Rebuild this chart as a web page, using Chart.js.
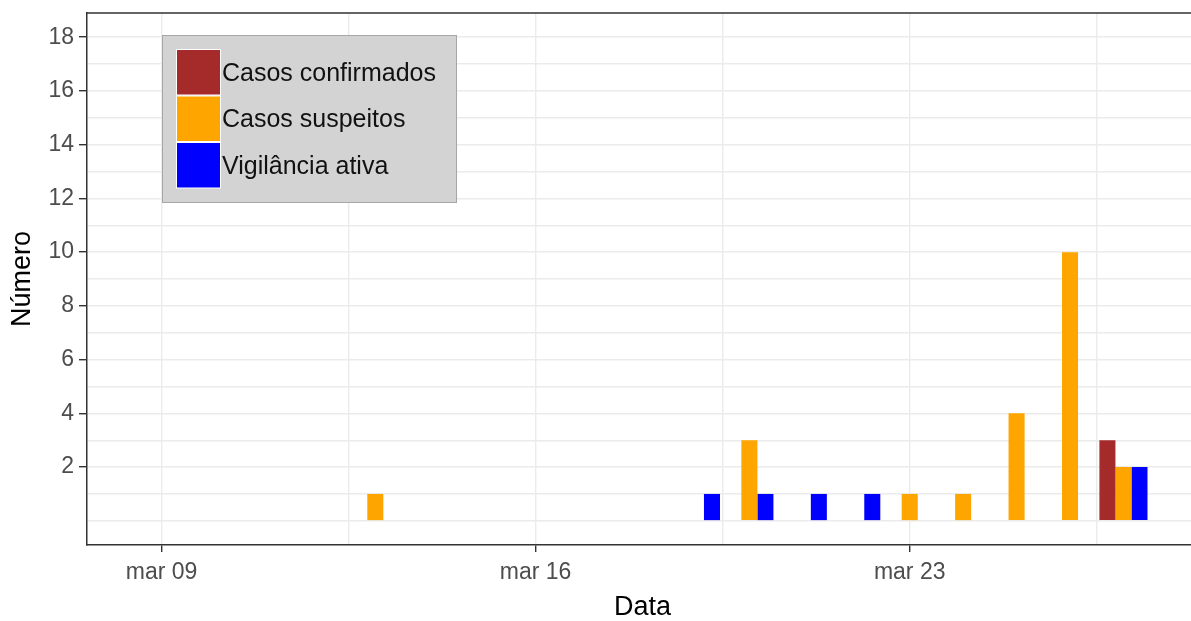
<!DOCTYPE html>
<html>
<head>
<meta charset="utf-8">
<script src="https://cdn.jsdelivr.net/npm/chart.js@4/dist/chart.umd.min.js"></script>
<style>
  html, body { margin: 0; padding: 0; background: #fff; overflow: hidden; }
  #wrap { width: 1200px; height: 621px; }
</style>
</head>
<body>
<div id="wrap"><canvas id="grafico" width="1200" height="621"></canvas></div>
<script>
// dias de março
var dias = [9, 10, 11, 12, 13, 14, 15, 16, 17, 18, 19, 20, 21, 22, 23, 24, 25, 26, 27];
var confirmados = [0, 0, 0, 0, 0, 0, 0, 0, 0, 0, 0, 0, 0, 0, 0, 0, 0, 0, 3];
var suspeitos   = [0, 0, 0, 0, 1, 0, 0, 0, 0, 0, 0, 3, 0, 0, 1, 1, 4, 10, 2];
var vigilancia  = [0, 0, 0, 0, 0, 0, 0, 0, 0, 0, 1, 1, 1, 1, 0, 0, 0, 0, 2];

var marcasX = [9, 16, 23];
var rotulosX = ['mar 09', 'mar 16', 'mar 23'];
var marcasY = [2, 4, 6, 8, 10, 12, 14, 16, 18];

var series = [
    { label: 'Casos confirmados', valores: confirmados, cor: '#A52A2A' },
    { label: 'Casos suspeitos', valores: suspeitos, cor: '#FFA500' },
    { label: 'Vigilância ativa', valores: vigilancia, cor: '#0000FF' }
];

var fonte = "Arial, 'Liberation Sans', sans-serif";
Chart.defaults.font.family = fonte;
Chart.defaults.animation = false;

function pontos(valores) {
    return dias.map(function(d, i) { return { x: d, y: valores[i] }; });
}

// legenda dentro do painel, estilo ggplot
var legendaPainel = {
    id: 'legendaPainel',
    afterDraw: function(chart) {
        var ctx = chart.ctx;
        var area = chart.chartArea;
        var x0 = area.left + 75, y0 = area.top + 22;
        var w = 295, h = 168;
        ctx.save();
        ctx.fillStyle = '#D3D3D3';
        ctx.fillRect(x0, y0, w, h);
        ctx.strokeStyle = '#A6A6A6';
        ctx.lineWidth = 1;
        ctx.strokeRect(x0 + 0.5, y0 + 0.5, w - 1, h - 1);
        ctx.font = '25px ' + fonte;
        ctx.textBaseline = 'middle';
        chart.data.datasets.forEach(function(ds, i) {
            var ky = y0 + 14 + i * 46.5;
            ctx.fillStyle = '#FFFFFF';
            ctx.fillRect(x0 + 14, ky, 45, 46.5);
            ctx.fillStyle = ds.backgroundColor;
            ctx.fillRect(x0 + 15, ky + 1, 43, 44.5);
            ctx.fillStyle = '#111111';
            ctx.fillText(ds.label, x0 + 60, ky + 25);
        });
        ctx.restore();
    }
};

// borda superior do painel
var bordaPainel = {
    id: 'bordaPainel',
    afterDraw: function(chart) {
        var ctx = chart.ctx;
        var area = chart.chartArea;
        ctx.save();
        ctx.strokeStyle = '#333333';
        ctx.lineWidth = 1.5;
        ctx.beginPath();
        ctx.moveTo(area.left, area.top);
        ctx.lineTo(area.right, area.top);
        ctx.lineTo(area.right, area.bottom);
        ctx.stroke();
        ctx.restore();
    }
};

var ctx = document.getElementById('grafico').getContext('2d');
var grafico = new Chart(ctx, {
    type: 'bar',
    data: {
        datasets: series.map(function(s) {
            return {
                label: s.label,
                data: pontos(s.valores),
                backgroundColor: s.cor,
                borderWidth: 0,
                categoryPercentage: 0.9,
                barPercentage: 1.0
            };
        })
    },
    plugins: [legendaPainel, bordaPainel],
    options: {
        responsive: false,
        animation: false,
        layout: { padding: { top: 13, right: 2, left: 0, bottom: 0 } },
        plugins: {
            legend: { display: false },
            tooltip: { enabled: false }
        },
        scales: {
            x: {
                type: 'linear',
                min: 7.605,
                max: 28.395,
                offset: false,
                afterBuildTicks: function(scale) {
                    var t = [];
                    marcasX.forEach(function(v) {
                        t.push({ value: v });
                        t.push({ value: v + 3.5 });
                    });
                    scale.ticks = t;
                },
                afterFit: function(scale) { scale.height = 76; },
                ticks: {
                    autoSkip: false,
                    maxRotation: 0,
                    padding: 7,
                    color: '#4D4D4D',
                    font: { size: 23 },
                    callback: function(value) {
                        var i = marcasX.indexOf(value);
                        return i >= 0 ? rotulosX[i] : '';
                    }
                },
                grid: {
                    offset: false,
                    color: '#EBEBEB',
                    lineWidth: 1.4,
                    tickLength: 7,
                    tickWidth: 1.4,
                    tickColor: function(c) {
                        return c.tick && marcasX.indexOf(c.tick.value) >= 0 ? '#333333' : 'rgba(0,0,0,0)';
                    }
                },
                border: { display: true, color: '#333333', width: 1.5 },
                title: {
                    display: true,
                    text: 'Data',
                    color: '#000000',
                    font: { size: 27 },
                    padding: { top: 0, bottom: -3 }
                }
            },
            y: {
                min: -0.9,
                max: 18.9,
                afterBuildTicks: function(scale) {
                    var t = [];
                    for (var v = 0; v <= 18; v++) t.push({ value: v });
                    scale.ticks = t;
                },
                afterFit: function(scale) {
                    scale.width = 87;
                    scale.paddingTop = 0;
                    scale.paddingBottom = 0;
                },
                ticks: {
                    autoSkip: false,
                    padding: 5,
                    color: '#4D4D4D',
                    font: { size: 23 },
                    callback: function(value) {
                        return marcasY.indexOf(value) >= 0 ? String(value) : '';
                    }
                },
                grid: {
                    color: '#EBEBEB',
                    lineWidth: 1.4,
                    tickLength: 8,
                    tickWidth: 1.4,
                    tickColor: function(c) {
                        return c.tick && marcasY.indexOf(c.tick.value) >= 0 ? '#333333' : 'rgba(0,0,0,0)';
                    }
                },
                border: { display: true, color: '#333333', width: 1.5 },
                title: {
                    display: true,
                    text: 'Número',
                    color: '#000000',
                    font: { size: 27 },
                    padding: { top: 6, bottom: 0 }
                }
            }
        }
    }
});
</script>
</body>
</html>
